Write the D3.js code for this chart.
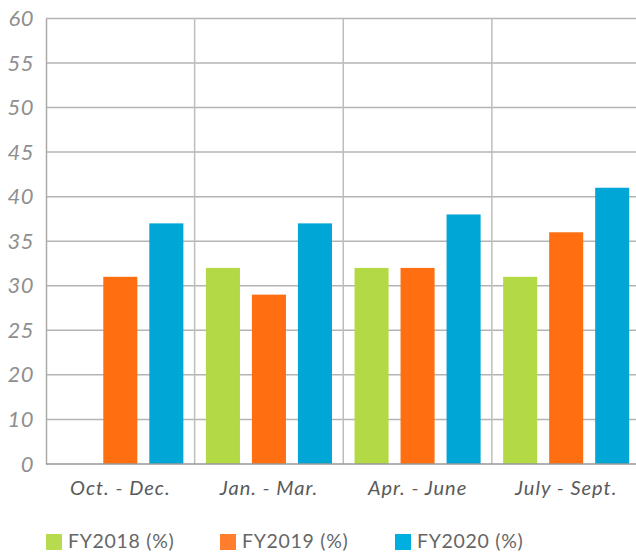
<!DOCTYPE html>
<html lang="en">
  <head>
    <meta charset="utf-8">
    <title>Quarterly results by fiscal year</title>
    <script type="text/javascript" src="https://cdn.jsdelivr.net/npm/d3@7"></script>
    <style>
      body { margin: 0; background: #fff; }
    </style>
  </head>
  <body>
    <script type="text/javascript">
      // Data
      var quarters = ["Oct. - Dec.", "Jan. - Mar.", "Apr. - June", "July - Sept."];
      var seriesNames = ["FY2018 (%)", "FY2019 (%)", "FY2020 (%)"];
      var fy2018 = [null, 32, 32, 31];
      var fy2019 = [31, 29, 32, 36];
      var fy2020 = [37, 37, 38, 41];
      var tickValues = [0, 10, 20, 25, 30, 35, 40, 45, 50, 55, 60];

      var barColors = ["#b3d945", "#ff6f12", "#00a6d6"];
      var legendColors = ["#b7da4e", "#ff7d2c", "#00aedf"];
      var allSeries = [fy2018, fy2019, fy2020];

      var W = 636, H = 552;
      // plot box (note: "top" is taken by window.top)
      var plotLeft = 46, plotTop = 18.5, plotBottom = 464, plotRight = 640.5;

      var svg = d3.select("body").append("svg")
                  .attr("width", W)
                  .attr("height", H);

      var x0 = d3.scaleBand()
                 .domain(quarters)
                 .range([plotLeft, plotRight]);
      var x1 = d3.scaleBand()
                 .domain(seriesNames)
                 .range([0, x0.bandwidth()])
                 .paddingInner(0.26)
                 .paddingOuter(0.245);

      // axis skips 5 and 15, so the lower part is compressed
      var y = d3.scaleLinear()
                .domain([0, 10, 20, 60])
                .range([plotBottom, plotBottom - 44.6, plotBottom - 89.2, plotTop]);

      // horizontal grid
      svg.append("g")
        .selectAll("line")
        .data(tickValues.filter(function(d) { return d > 0; }))
        .enter()
        .append("line")
        .attr("x1", plotLeft)
        .attr("x2", W)
        .attr("y1", function(d) { return y(d); })
        .attr("y2", function(d) { return y(d); })
        .attr("stroke", "#b4b4b4")
        .attr("stroke-width", 1.5);

      // vertical category separators
      svg.append("g")
        .selectAll("line")
        .data(quarters.slice(1))
        .enter()
        .append("line")
        .attr("x1", function(d) { return x0(d); })
        .attr("x2", function(d) { return x0(d); })
        .attr("y1", plotTop)
        .attr("y2", plotBottom)
        .attr("stroke", "#bdbdbd")
        .attr("stroke-width", 1.5);

      // bars
      var groups = svg.append("g")
        .selectAll("g")
        .data(quarters)
        .enter()
        .append("g")
        .attr("transform", function(d) { return "translate(" + x0(d) + ",0)"; });

      groups.selectAll("rect")
        .data(function(d, i) {
          return allSeries.map(function(s, k) {
            return {name: seriesNames[k], value: s[i], k: k};
          }).filter(function(e) { return e.value != null; });
        })
        .enter()
        .append("rect")
        .attr("x", function(d) { return x1(d.name); })
        .attr("y", function(d) { return y(d.value); })
        .attr("width", x1.bandwidth())
        .attr("height", function(d) { return y(0) - y(d.value); })
        .attr("fill", function(d) { return barColors[d.k]; });

      // y axis
      var yAxis = svg.append("g")
        .attr("transform", "translate(" + plotLeft + ",0)")
        .call(d3.axisLeft(y).tickValues(tickValues).tickSize(0).tickPadding(12));
      yAxis.select(".domain")
        .attr("stroke", "#aaaaaa")
        .attr("stroke-width", 1.5);
      yAxis.selectAll("text")
        .attr("font-family", "Lato, sans-serif")
        .attr("font-style", "italic")
        .attr("font-size", 22)
        .attr("letter-spacing", 0.5)
        .attr("fill", "#8f8f8f");

      // x axis
      var xAxis = svg.append("g")
        .attr("transform", "translate(0," + plotBottom + ")")
        .call(d3.axisBottom(x0).tickSize(0).tickPadding(17));
      xAxis.select(".domain")
        .attr("d", "M" + plotLeft + ",0H" + W)
        .attr("stroke", "#999999")
        .attr("stroke-width", 1.5);
      xAxis.selectAll("text")
        .attr("font-family", "Lato, sans-serif")
        .attr("font-style", "italic")
        .attr("font-size", 20)
        .attr("letter-spacing", 1)
        .attr("fill", "#5a5a5a");

      // legend
      var legendX = [46, 220, 395];
      var legend = svg.append("g")
        .selectAll("g")
        .data(seriesNames)
        .enter()
        .append("g")
        .attr("transform", function(d, i) { return "translate(" + legendX[i] + ",534)"; });
      legend.append("rect")
        .attr("width", 16)
        .attr("height", 16)
        .attr("fill", function(d, i) { return legendColors[i]; });
      legend.append("text")
        .attr("x", 22)
        .attr("y", 8)
        .attr("dy", "0.33em")
        .attr("font-family", "Lato, sans-serif")
        .attr("font-size", 19.5)
        .attr("letter-spacing", 0.7)
        .attr("fill", "#666666")
        .text(function(d) { return d; });
    </script>
  </body>
</html>
